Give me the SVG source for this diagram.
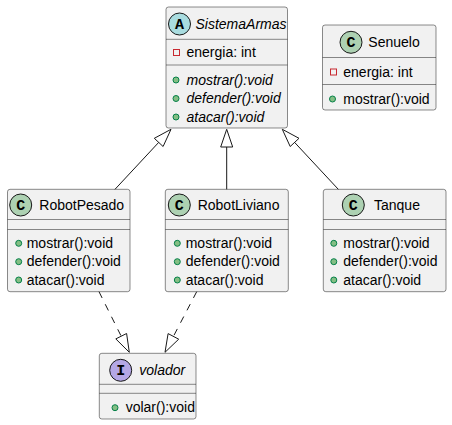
<svg xmlns="http://www.w3.org/2000/svg" width="452" height="425" viewBox="0 0 452 425">
<style>
.box{fill:#F1F1F1;stroke:#181818;stroke-width:0.5}
.sep{stroke:#181818;stroke-width:0.5}
.t{font-family:"Liberation Sans",Arial,sans-serif;font-size:14px;fill:#000}
.i{font-style:italic}
.ic{font-family:"Liberation Mono","Courier New",monospace;font-size:15px;font-weight:bold;fill:#000;text-anchor:middle}
.cc{stroke:#181818;stroke-width:1}
.pub{fill:#84BE84;stroke:#038048;stroke-width:1}
.priv{fill:none;stroke:#C82930;stroke-width:1}
.ln{stroke:#181818;stroke-width:1;fill:none}
.dash{stroke-dasharray:7,7}
.hd{fill:none;stroke:#181818;stroke-width:1}
</style>
<g id="SistemaArmas">
<rect class="box" x="166" y="7" width="121.5" height="121" rx="2.5"/>
<circle class="cc" cx="179.5" cy="24" r="11" fill="#A9DCDF"/>
<text class="ic" x="179.5" y="29">A</text>
<text class="t i" x="195.5" y="28.5">SistemaArmas</text>
<line class="sep" x1="166" y1="39.3" x2="287.5" y2="39.3"/>
<rect class="priv" x="173.5" y="49.5" width="6" height="6"/>
<text class="t" x="186.5" y="57.3">energia: int</text>
<line class="sep" x1="166" y1="65" x2="287.5" y2="65"/>
<circle class="pub" cx="176" cy="80" r="3"/>
<text class="t i" x="186.5" y="84.5">mostrar():void</text>
<circle class="pub" cx="176" cy="98.5" r="3"/>
<text class="t i" x="186.5" y="103">defender():void</text>
<circle class="pub" cx="176" cy="117" r="3"/>
<text class="t i" x="186.5" y="121.5">atacar():void</text>
</g>
<g id="Senuelo">
<rect class="box" x="322.5" y="25" width="113.5" height="85" rx="2.5"/>
<circle class="cc" cx="351" cy="42.3" r="11" fill="#ADD1B2"/>
<text class="ic" x="351" y="47.3">C</text>
<text class="t" x="368.3" y="47">Senuelo</text>
<line class="sep" x1="322.5" y1="57.5" x2="436" y2="57.5"/>
<rect class="priv" x="330.5" y="69" width="6" height="6"/>
<text class="t" x="343.3" y="77">energia: int</text>
<line class="sep" x1="322.5" y1="84.5" x2="436" y2="84.5"/>
<circle class="pub" cx="332.5" cy="99" r="3"/>
<text class="t" x="343.3" y="103.5">mostrar():void</text>
</g>
<g id="RobotPesado">
<rect class="box" x="7.5" y="189.3" width="122.5" height="102.4" rx="2.5"/>
<circle class="cc" cx="20.7" cy="205" r="11" fill="#ADD1B2"/>
<text class="ic" x="20.7" y="210">C</text>
<text class="t" x="39.3" y="209.5">RobotPesado</text>
<line class="sep" x1="7.5" y1="219.5" x2="130" y2="219.5"/>
<line class="sep" x1="7.5" y1="229.5" x2="130" y2="229.5"/>
<circle class="pub" cx="18.7" cy="243.3" r="3"/>
<text class="t" x="26.7" y="247.8">mostrar():void</text>
<circle class="pub" cx="18.7" cy="261.7" r="3"/>
<text class="t" x="26.7" y="266.2">defender():void</text>
<circle class="pub" cx="18.7" cy="280" r="3"/>
<text class="t" x="26.7" y="284.5">atacar():void</text>
</g>
<g id="RobotLiviano">
<rect class="box" x="165.3" y="189.3" width="123" height="102.4" rx="2.5"/>
<circle class="cc" cx="179.3" cy="205" r="11" fill="#ADD1B2"/>
<text class="ic" x="179.3" y="210">C</text>
<text class="t" x="197.7" y="209.5">RobotLiviano</text>
<line class="sep" x1="165.3" y1="219.5" x2="288.3" y2="219.5"/>
<line class="sep" x1="165.3" y1="229.5" x2="288.3" y2="229.5"/>
<circle class="pub" cx="177.3" cy="243.3" r="3"/>
<text class="t" x="185.7" y="247.8">mostrar():void</text>
<circle class="pub" cx="177.3" cy="261.7" r="3"/>
<text class="t" x="185.7" y="266.2">defender():void</text>
<circle class="pub" cx="177.3" cy="280" r="3"/>
<text class="t" x="185.7" y="284.5">atacar():void</text>
</g>
<g id="Tanque">
<rect class="box" x="323.3" y="189.3" width="122.7" height="102.4" rx="2.5"/>
<circle class="cc" cx="353.3" cy="205" r="11" fill="#ADD1B2"/>
<text class="ic" x="353.3" y="210">C</text>
<text class="t" x="374" y="209.5">Tanque</text>
<line class="sep" x1="323.3" y1="219.5" x2="446" y2="219.5"/>
<line class="sep" x1="323.3" y1="229.5" x2="446" y2="229.5"/>
<circle class="pub" cx="333.8" cy="243.3" r="3"/>
<text class="t" x="343.3" y="247.8">mostrar():void</text>
<circle class="pub" cx="333.8" cy="261.7" r="3"/>
<text class="t" x="343.3" y="266.2">defender():void</text>
<circle class="pub" cx="333.8" cy="280" r="3"/>
<text class="t" x="343.3" y="284.5">atacar():void</text>
</g>
<g id="volador">
<rect class="box" x="99.3" y="353.3" width="96.7" height="65.7" rx="2.5"/>
<circle class="cc" cx="120.7" cy="370.3" r="11" fill="#B4A7E5"/>
<text class="ic" x="120.7" y="375.3">I</text>
<text class="t i" x="139.3" y="375">volador</text>
<line class="sep" x1="99.3" y1="384.3" x2="196" y2="384.3"/>
<line class="sep" x1="99.3" y1="393.3" x2="196" y2="393.3"/>
<circle class="pub" cx="115" cy="407.7" r="3"/>
<text class="t" x="125.7" y="412.2">volar():void</text>
</g>
<g id="connectors">
<line class="ln" x1="115" y1="189.3" x2="158.7" y2="142.4"/>
<polygon class="hd" points="171,129.3 154.3,138.3 163.1,146.5"/>
<line class="ln" x1="226.7" y1="189.3" x2="226.7" y2="147"/>
<polygon class="hd" points="226.7,129.3 220.7,147 232.7,147"/>
<line class="ln" x1="338.3" y1="189.3" x2="294.6" y2="142.4"/>
<polygon class="hd" points="282.3,129.3 299,138.3 290.2,146.5"/>
<line class="ln dash" x1="99" y1="291.7" x2="121.2" y2="336.2"/>
<polygon class="hd" points="129.3,352.3 126.6,333.5 115.8,338.9"/>
<line class="ln dash" x1="196.7" y1="291.7" x2="173.4" y2="336.4"/>
<polygon class="hd" points="165,352.3 178.7,339.2 168.1,333.6"/>
</g>
</svg>
